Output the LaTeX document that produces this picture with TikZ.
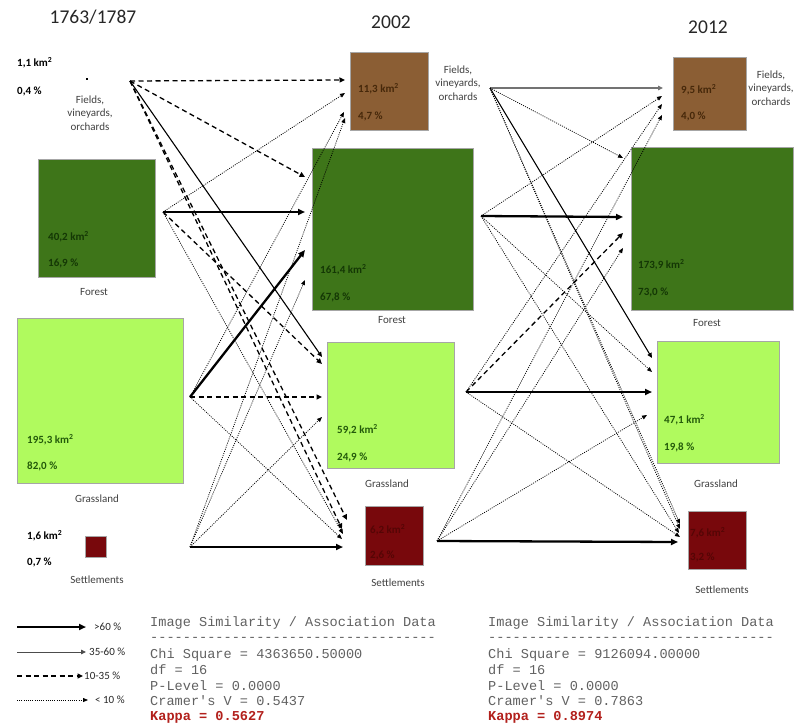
\documentclass[tikz,border=0pt]{standalone}
\usepackage{fontspec}
\setmainfont{Carlito}
\newfontfamily\monof{Liberation Mono}
\usetikzlibrary{arrows.meta}
\definecolor{forestc}{RGB}{62,117,25}
\definecolor{grassc}{RGB}{176,250,94}
\definecolor{fieldc}{RGB}{139,94,52}
\definecolor{settlc}{RGB}{120,8,12}
\definecolor{forestt}{RGB}{20,55,5}
\definecolor{grasst}{RGB}{35,90,10}
\definecolor{fieldt}{RGB}{70,40,10}
\definecolor{settlt}{RGB}{85,5,5}
\definecolor{kappac}{RGB}{178,32,28}
\begin{document}
\begin{tikzpicture}[x=1pt,y=-1pt,
  landbox/.style={draw=black!35, line width=0.6pt, inner sep=0pt, outer sep=0pt, anchor=north west},
  lbl/.style={font=\fontsize{11}{13}\selectfont, text=black!75, align=center, inner sep=0pt},
  num/.style={font=\bfseries\fontsize{11}{13}\selectfont, anchor=west, inner sep=0pt},
  year/.style={font=\fontsize{19.5}{22}\selectfont, text=black!85, inner sep=0pt},
  mono/.style={font=\monof\fontsize{13.6}{16}\selectfont, text=black!62, anchor=west, inner sep=0pt},
  kappa/.style={font=\monof\bfseries\fontsize{13.6}{16}\selectfont, text=kappac, anchor=west, inner sep=0pt},
  legtxt/.style={font=\fontsize{11}{13}\selectfont, text=black!85, anchor=west, inner sep=0pt},
  arrthick/.style={line width=2.3pt, -{Triangle[length=7pt,width=6pt]}},
  arrmed/.style={line width=1.1pt, -{Triangle[length=5pt,width=4.5pt]}},
  arrdash/.style={line width=1.3pt, dash pattern=on 5pt off 3.5pt, -{Triangle[length=5.5pt,width=5pt]}},
  arrdot/.style={line width=0.75pt, dash pattern=on 1pt off 1.2pt, -{Triangle[length=5pt,width=4pt]}}
]
\useasboundingbox (0,0) rectangle (795,725);

% ---------- titles ----------
\node[year] (y1) at (93,17) {1763/1787};
\node[year] (y2) at (391,22) {2002};
\node[year] (y3) at (708,27) {2012};

% ---------- column 1763/1787 ----------
\node[num] (fi1a) at (17,63) {1,1 km\textsuperscript{2}};
\node[num] (fi1b) at (17,91) {0,4 \%};
\node[fill=black, inner sep=0pt, minimum size=2pt] (fi1dot) at (87,79) {};
\node[lbl] (fi1l) at (90,113) {Fields,\\[0.5pt]vineyards,\\[0.5pt]orchards};

\node[landbox, fill=forestc, minimum width=117pt, minimum height=118pt] (fo1) at (38,159) {};
\node[num, text=forestt] (fo1a) at (48,237) {40,2 km\textsuperscript{2}};
\node[num, text=forestt] (fo1b) at (48,263) {16,9 \%};
\node[lbl] (fo1l) at (94,292) {Forest};

\node[landbox, fill=grassc, minimum width=166pt, minimum height=165pt] (gr1) at (17,318) {};
\node[num, text=grasst] (gr1a) at (27,440) {195,3 km\textsuperscript{2}};
\node[num, text=grasst] (gr1b) at (27,466) {82,0 \%};
\node[lbl] (gr1l) at (97,499) {Grassland};

\node[num] (se1a) at (27,536) {1,6 km\textsuperscript{2}};
\node[num] (se1b) at (27,562) {0,7 \%};
\node[landbox, fill=settlc, minimum width=21pt, minimum height=21pt] (se1) at (85,536) {};
\node[lbl] (se1l) at (97,580) {Settlements};

% ---------- column 2002 ----------
\node[landbox, fill=fieldc, minimum width=78pt, minimum height=78pt] (fi2) at (350,52) {};
\node[num, text=fieldt] (fi2a) at (358,89) {11,3 km\textsuperscript{2}};
\node[num, text=fieldt] (fi2b) at (358,116) {4,7 \%};
\node[lbl] (fi2l) at (458,83) {Fields,\\[0.5pt]vineyards,\\[0.5pt]orchards};

\node[landbox, fill=forestc, minimum width=161pt, minimum height=162pt] (fo2) at (312,148) {};
\node[num, text=forestt] (fo2a) at (320,270) {161,4 km\textsuperscript{2}};
\node[num, text=forestt] (fo2b) at (320,297) {67,8 \%};
\node[lbl] (fo2l) at (392,320) {Forest};

\node[landbox, fill=grassc, minimum width=127pt, minimum height=126pt] (gr2) at (327,342) {};
\node[num, text=grasst] (gr2a) at (337,430) {59,2 km\textsuperscript{2}};
\node[num, text=grasst] (gr2b) at (337,457) {24,9 \%};
\node[lbl] (gr2l) at (387,484) {Grassland};

\node[landbox, fill=settlc, minimum width=58pt, minimum height=59pt] (se2) at (365,506) {};
\node[num, text=settlt] (se2a) at (370,530) {6,2 km\textsuperscript{2}};
\node[num, text=settlt] (se2b) at (370,555) {2,6 \%};
\node[lbl] (se2l) at (398,583) {Settlements};

% ---------- column 2012 ----------
\node[landbox, fill=fieldc, minimum width=73pt, minimum height=73pt] (fi3) at (673,57) {};
\node[num, text=fieldt] (fi3a) at (681,90) {9,5 km\textsuperscript{2}};
\node[num, text=fieldt] (fi3b) at (681,116) {4,0 \%};
\node[lbl] (fi3l) at (771,88) {Fields,\\[0.5pt]vineyards,\\[0.5pt]orchards};

\node[landbox, fill=forestc, minimum width=162pt, minimum height=163pt] (fo3) at (631,147) {};
\node[num, text=forestt] (fo3a) at (638,265) {173,9 km\textsuperscript{2}};
\node[num, text=forestt] (fo3b) at (638,292) {73,0 \%};
\node[lbl] (fo3l) at (707,323) {Forest};

\node[landbox, fill=grassc, minimum width=122pt, minimum height=122pt] (gr3) at (657,341) {};
\node[num, text=grasst] (gr3a) at (664,420) {47,1 km\textsuperscript{2}};
\node[num, text=grasst] (gr3b) at (664,447) {19,8 \%};
\node[lbl] (gr3l) at (716,484) {Grassland};

\node[landbox, fill=settlc, minimum width=58pt, minimum height=58pt] (se3) at (688,511) {};
\node[num, text=settlt] (se3a) at (690,533) {7,6 km\textsuperscript{2}};
\node[num, text=settlt] (se3b) at (690,557) {3,2 \%};
\node[lbl] (se3l) at (722,590) {Settlements};

% ---------- source points ----------
\coordinate (F1) at (130,81);
\coordinate (Fo1) at (163,212);
\coordinate (G1) at (190,397);
\coordinate (S1) at (190,547);
\coordinate (F2) at (490,88);
\coordinate (Fo2) at (481,216);
\coordinate (G2) at (466,392);
\coordinate (S2) at (437,541);

% ---------- targets 2002 ----------
\coordinate (tA1) at (345,80);
\coordinate (tA2) at (345,93);
\coordinate (tA3) at (344,112);
\coordinate (tA4) at (345,118);
\coordinate (tB1) at (305,177);
\coordinate (tB2) at (305,212);
\coordinate (tB3) at (305,250);
\coordinate (tB4) at (305,280);
\coordinate (tC1) at (322,357);
\coordinate (tC2) at (322,364);
\coordinate (tC3) at (322,397);
\coordinate (tC4) at (322,417);
\coordinate (tD1) at (347,520);
\coordinate (tD5) at (342,529);
\coordinate (tD2) at (343,534);
\coordinate (tD3) at (342,539);
\coordinate (tD4) at (343,547);

% ---------- targets 2012 ----------
\coordinate (uA1) at (663,88);
\coordinate (uA2) at (662,96);
\coordinate (uA3) at (662,104);
\coordinate (uA4) at (662,115);
\coordinate (uB1) at (623,158);
\coordinate (uB2) at (623,217);
\coordinate (uB3) at (623,233);
\coordinate (uB4) at (623,248);
\coordinate (uC1) at (652,358);
\coordinate (uC2) at (652,372);
\coordinate (uC3) at (652,392);
\coordinate (uC4) at (647,415);
\coordinate (uD1) at (680,524);
\coordinate (uD5) at (680,529);
\coordinate (uD2) at (679,533);
\coordinate (uD3) at (680,537);
\coordinate (uD4) at (678,542);

% ---------- transitions 1763/1787 -> 2002 ----------
\draw[arrdash] (F1) -- (tA1);
\draw[arrdash] (F1) -- (tB1);
\draw[arrmed]  (F1) -- (tC1);
\draw[arrdash] (F1) -- (tD1);
\draw[arrdash] (F1) -- (tD5);

\draw[arrdot]   (Fo1) -- (tA2);
\draw[arrthick] (Fo1) -- (tB2);
\draw[arrdash]  (Fo1) -- (tC2);
\draw[arrdot]   (Fo1) -- (tD2);

\draw[arrdot]   (G1) -- (tA3);
\draw[arrthick] (G1) -- (tB3);
\draw[arrdash]  (G1) -- (tC3);
\draw[arrdot]   (G1) -- (tD3);

\draw[arrdot]   (S1) -- (tA4);
\draw[arrdot]   (S1) -- (tB4);
\draw[arrdot]   (S1) -- (tC4);
\draw[arrthick] (S1) -- (tD4);

% ---------- transitions 2002 -> 2012 ----------
\draw[arrmed, draw=black!55, fill=black!55] (F2) -- (uA1);
\draw[arrdot]  (F2) -- (uB1);
\draw[arrmed]  (F2) -- (uC1);
\draw[arrdot]  (F2) -- (uD1);
\draw[arrdot]  (F2) -- (uD5);

\draw[arrdot]   (Fo2) -- (uA2);
\draw[arrthick] (Fo2) -- (uB2);
\draw[arrdot]   (Fo2) -- (uC2);
\draw[arrdot]   (Fo2) -- (uD2);

\draw[arrdot]   (G2) -- (uA3);
\draw[arrdash]  (G2) -- (uB3);
\draw[arrthick] (G2) -- (uC3);
\draw[arrdot]   (G2) -- (uD3);

\draw[arrdot]   (S2) -- (uA4);
\draw[arrdot]   (S2) -- (uB4);
\draw[arrdot]   (S2) -- (uC4);
\draw[arrthick] (S2) -- (uD4);

% ---------- legend ----------
\coordinate (L1s) at (17,627); \coordinate (L1e) at (86,627);
\coordinate (L2s) at (17,652); \coordinate (L2e) at (86,652);
\coordinate (L3s) at (17,676); \coordinate (L3e) at (83,676);
\coordinate (L4s) at (17,700); \coordinate (L4e) at (88,700);
\draw[arrthick] (L1s) -- (L1e);
\draw[arrmed, line width=0.9pt, draw=black!70, fill=black!70] (L2s) -- (L2e);
\draw[arrdash] (L3s) -- (L3e);
\draw[arrdot] (L4s) -- (L4e);
\node[legtxt] (lg1) at (94,627) {>60 \%};
\node[legtxt] (lg2) at (89,652) {35-60 \%};
\node[legtxt] (lg3) at (84,676) {10-35 \%};
\node[legtxt] (lg4) at (95,700) {< 10 \%};

% ---------- statistics ----------
\node[mono] (s1a) at (150,623) {Image Similarity / Association Data};
\node[mono] (s1b) at (150,639) {-----------------------------------};
\node[mono] (s1c) at (150,655) {Chi Square = 4363650.50000};
\node[mono] (s1d) at (150,670) {df = 16};
\node[mono] (s1e) at (150,686) {P-Level = 0.0000};
\node[mono] (s1f) at (150,701) {Cramer's V = 0.5437};
\node[kappa] (s1g) at (150,717) {Kappa = 0.5627};

\node[mono] (s2a) at (488,623) {Image Similarity / Association Data};
\node[mono] (s2b) at (488,639) {-----------------------------------};
\node[mono] (s2c) at (488,655) {Chi Square = 9126094.00000};
\node[mono] (s2d) at (488,670) {df = 16};
\node[mono] (s2e) at (488,686) {P-Level = 0.0000};
\node[mono] (s2f) at (488,701) {Cramer's V = 0.7863};
\node[kappa] (s2g) at (488,717) {Kappa = 0.8974};
\end{tikzpicture}
\end{document}
